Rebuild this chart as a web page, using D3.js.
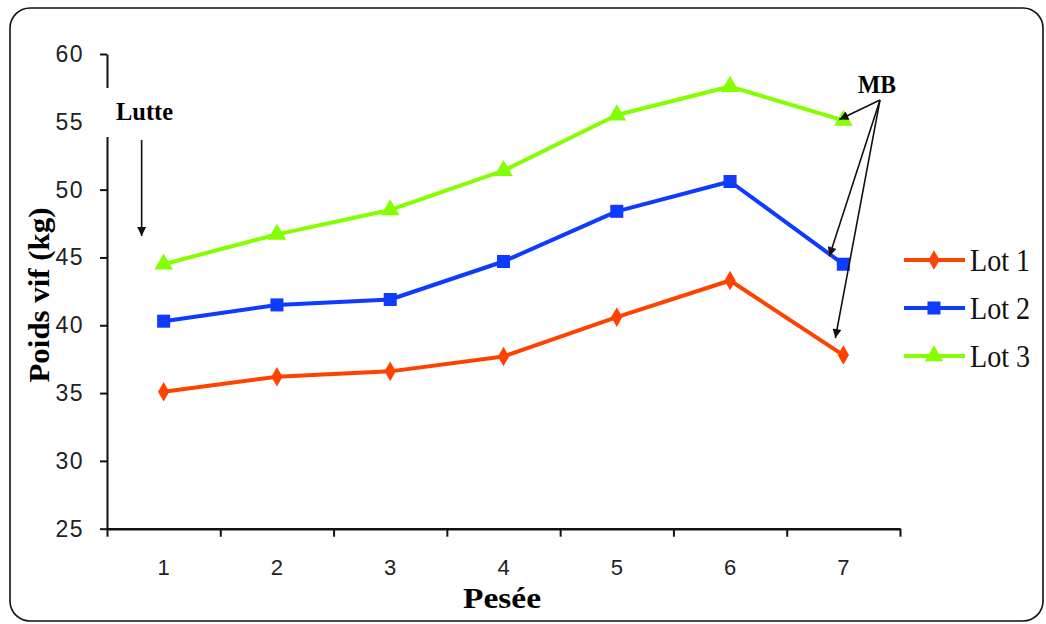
<!DOCTYPE html>
<html>
<head>
<meta charset="utf-8">
<script src="https://cdn.jsdelivr.net/npm/d3@7"></script>
<style>
  html, body { margin: 0; padding: 0; background: #fff; }
  svg { display: block; }
</style>
</head>
<body>
<svg id="chart" width="1046" height="624"></svg>
<script>
// Weighings (pesées) and live weight per lot (kg)
const categories = ["1", "2", "3", "4", "5", "6", "7"];
const lot1 = [35.1, 36.2, 36.6, 37.7, 40.6, 43.3, 37.8];
const lot2 = [40.3, 41.5, 41.9, 44.7, 48.4, 50.6, 44.5];
const lot3 = [44.5, 46.7, 48.5, 51.4, 55.5, 57.6, 55.1];
const seriesNames = ["Lot 1", "Lot 2", "Lot 3"];
const yTicks = [25, 30, 35, 40, 45, 50, 55, 60];

const colors = ["#ff4200", "#0d3bff", "#84ff00"];
const symbols = [d3.symbolDiamond, d3.symbolSquare, d3.symbolTriangle];
const symbolSizes = [110, 170, 150];
const series = [lot1, lot2, lot3];

const svg = d3.select("#chart");

// outer frame with rounded corners
svg.append("rect")
  .attr("x", 10).attr("y", 8).attr("width", 1033).attr("height", 613)
  .attr("rx", 20).attr("ry", 20)
  .attr("fill", "#fff").attr("stroke", "#111").attr("stroke-width", 1.6);

const plot = { left: 107, right: 900, top: 54, bottom: 528.7 };

const x = d3.scaleBand().domain(categories).range([plot.left, plot.right]);
const xEdge = d3.scaleLinear().domain([0, categories.length]).range([plot.left, plot.right]);
const y = d3.scaleLinear().domain([25, 60]).range([plot.bottom, plot.top]);
const cx = c => x(c) + x.bandwidth() / 2;

const sansFont = "'Liberation Sans', Arial, sans-serif";
const serifFont = "'Liberation Serif', 'Times New Roman', serif";

// y axis
const yAxis = svg.append("g")
  .attr("transform", `translate(${plot.left},0)`)
  .call(d3.axisLeft(y).tickValues(yTicks).tickSize(7).tickSizeOuter(0).tickPadding(16));
yAxis.select(".domain").attr("stroke", "#111").attr("stroke-width", 2);
yAxis.selectAll(".tick line").attr("stroke", "#111").attr("stroke-width", 2);
yAxis.selectAll(".tick text")
  .attr("font-family", sansFont).attr("font-size", 23).attr("fill", "#222")
  .attr("letter-spacing", 1.5).attr("font-weight", 300);

// x axis: ticks on category boundaries, labels centred in each band
const xAxis = svg.append("g")
  .attr("transform", `translate(0,${plot.bottom})`)
  .call(d3.axisBottom(xEdge).tickValues(d3.range(categories.length + 1)).tickFormat("").tickSize(8).tickSizeOuter(0));
xAxis.select(".domain").attr("stroke", "#111").attr("stroke-width", 2.5);
xAxis.selectAll(".tick line").attr("stroke", "#111").attr("stroke-width", 2);

const xLabels = svg.append("g")
  .attr("transform", `translate(0,${plot.bottom})`)
  .call(d3.axisBottom(x).tickSize(0).tickPadding(0));
xLabels.select(".domain").remove();
xLabels.selectAll(".tick text")
  .attr("dy", null).attr("y", 46)
  .attr("font-family", sansFont).attr("font-size", 22).attr("fill", "#222")
  .attr("font-weight", 300);

// axis titles
svg.append("text")
  .attr("x", 502).attr("y", 608)
  .attr("text-anchor", "middle")
  .attr("font-family", serifFont).attr("font-weight", "bold").attr("font-size", 29)
  .attr("textLength", 78).attr("lengthAdjust", "spacingAndGlyphs")
  .text("Pesée");

svg.append("text")
  .attr("transform", "translate(49,295) rotate(-90)")
  .attr("text-anchor", "middle")
  .attr("font-family", serifFont).attr("font-weight", "bold").attr("font-size", 30)
  .attr("textLength", 175).attr("lengthAdjust", "spacingAndGlyphs")
  .text("Poids vif (kg)");

// lines and markers
const line = d3.line().x((d, i) => cx(categories[i])).y(d => y(d));

series.forEach((vals, s) => {
  svg.append("path")
    .datum(vals)
    .attr("d", line)
    .attr("fill", "none")
    .attr("stroke", colors[s]).attr("stroke-width", 4)
    .attr("stroke-linejoin", "round");
  svg.append("g").selectAll("path")
    .data(vals)
    .join("path")
    .attr("transform", (d, i) => `translate(${cx(categories[i])},${y(d)})`)
    .attr("d", d3.symbol().type(symbols[s]).size(symbolSizes[s]))
    .attr("fill", colors[s]);
});

// annotations
const defs = svg.append("defs");
defs.append("marker")
  .attr("id", "arrow")
  .attr("viewBox", "0 0 10 10")
  .attr("refX", 10).attr("refY", 5)
  .attr("markerWidth", 11).attr("markerHeight", 9)
  .attr("markerUnits", "userSpaceOnUse")
  .attr("orient", "auto")
  .append("path")
  .attr("d", "M0,0 L10,5 L0,10 Z")
  .attr("fill", "#111");

// white box behind "Lutte" interrupts the y axis
svg.append("rect")
  .attr("x", 96).attr("y", 88).attr("width", 80).attr("height", 49)
  .attr("fill", "#fff");
svg.append("text")
  .attr("x", 116).attr("y", 120)
  .attr("font-family", serifFont).attr("font-weight", "bold").attr("font-size", 25)
  .attr("textLength", 57).attr("lengthAdjust", "spacingAndGlyphs")
  .text("Lutte");
svg.append("line")
  .attr("x1", cx(categories[0]) - 22).attr("y1", 140)
  .attr("x2", cx(categories[0]) - 22).attr("y2", 236)
  .attr("stroke", "#111").attr("stroke-width", 1.6)
  .attr("marker-end", "url(#arrow)");

svg.append("text")
  .attr("x", 877).attr("y", 93)
  .attr("text-anchor", "middle")
  .attr("font-family", serifFont).attr("font-weight", "bold").attr("font-size", 25)
  .attr("textLength", 38).attr("lengthAdjust", "spacingAndGlyphs")
  .text("MB");

const last = categories.length - 1;
const mbOrigin = [880, 100];
const mbTargets = [
  [cx(categories[last]) - 4, y(lot3[last]) - 1],
  [cx(categories[last]) - 14, y(lot2[last]) - 8],
  [cx(categories[last]) - 8, y(lot1[last]) - 17]
];
mbTargets.forEach(t => {
  svg.append("line")
    .attr("x1", mbOrigin[0]).attr("y1", mbOrigin[1])
    .attr("x2", t[0]).attr("y2", t[1])
    .attr("stroke", "#111").attr("stroke-width", 1.6)
    .attr("marker-end", "url(#arrow)");
});

// legend
const legend = svg.append("g");
const legendRows = [260, 308, 356];
seriesNames.forEach((name, s) => {
  const g = legend.append("g").attr("transform", `translate(0,${legendRows[s]})`);
  g.append("line")
    .attr("x1", 904).attr("x2", 965)
    .attr("stroke", colors[s]).attr("stroke-width", 4);
  g.append("path")
    .attr("transform", "translate(934,0)")
    .attr("d", d3.symbol().type(symbols[s]).size(symbolSizes[s]))
    .attr("fill", colors[s]);
  g.append("text")
    .attr("x", 970).attr("y", 11)
    .attr("font-family", serifFont).attr("font-size", 32)
    .attr("textLength", 60).attr("lengthAdjust", "spacingAndGlyphs")
    .attr("fill", "#111")
    .text(name);
});
</script>
</body>
</html>
